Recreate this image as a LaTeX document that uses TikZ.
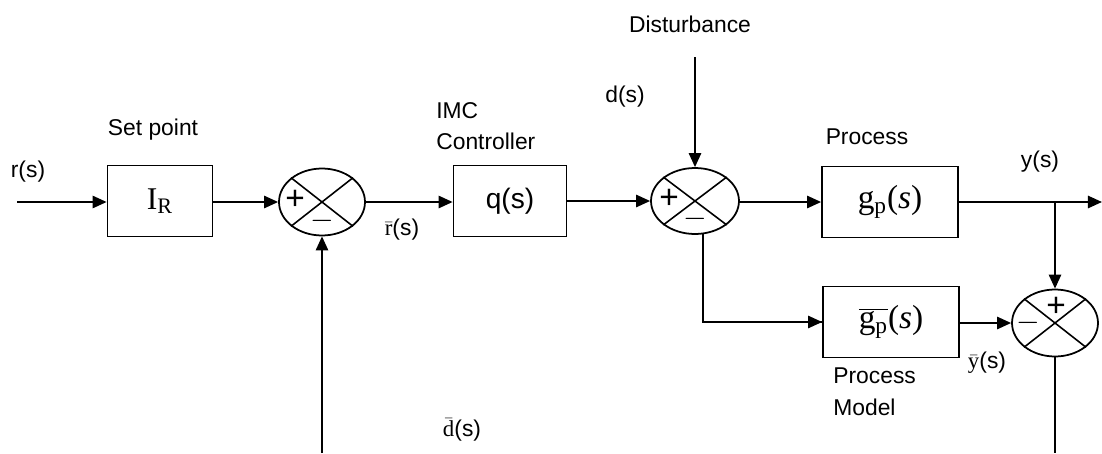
\documentclass[tikz,border=0pt]{standalone}
\usepackage{fontspec}
\setmainfont{Liberation Sans}
\newfontfamily\serifm{Liberation Serif}
\usetikzlibrary{shapes.geometric,arrows.meta}
\begin{document}
\begin{tikzpicture}[x=0.02cm,y=-0.02cm,
  font=\fontsize{13}{18}\selectfont,
  blk/.style={draw,line width=1pt,rectangle,inner sep=0pt},
  summer/.style={draw,line width=1pt,ellipse,inner sep=0pt,minimum width=1.72cm,minimum height=1.34cm},
  wire/.style={line width=1.1pt},
  arr/.style={wire,-{Triangle[length=8pt,width=7pt]}},
  sgn/.style={inner sep=0pt,font=\fontsize{19}{19}\selectfont},
  lbl/.style={inner sep=0pt}]
\useasboundingbox (0,0) rectangle (1102,453);
% blocks
\node[blk,minimum width=2.1cm,minimum height=1.42cm] (ir) at (160,201) {\fontsize{18}{20}\selectfont\serifm I\textsubscript{R}};
\node[summer] (s1) at (322,202) {};
\node[blk,minimum width=2.26cm,minimum height=1.42cm] (q) at (510,201) {\fontsize{16}{20}\selectfont q(s)};
\node[summer,minimum width=1.76cm,minimum height=1.32cm] (s2) at (695,201) {};
\node[blk,minimum width=2.72cm,minimum height=1.42cm] (gp) at (890,202) {\fontsize{19}{20}\selectfont\serifm g\textsubscript{p}(\textit{s})};
\node[blk,minimum width=2.72cm,minimum height=1.42cm] (gpb) at (891,322) {\fontsize{19}{20}\selectfont\serifm $\overline{\hbox{g\textsubscript{p}}}$(\textit{s})};
\node[summer] (s3) at (1055,323) {};
% crosses
\foreach \s in {s1,s2,s3}{
  \draw[line width=0.9pt] (\s.north west) -- (\s.south east);
  \draw[line width=0.9pt] (\s.north east) -- (\s.south west);
}
% signs
\node[sgn] (p1) at (295,200) {+};
\node[sgn] (m1) at (322,221) {$-$};
\node[sgn] (p2) at (669,199) {+};
\node[sgn] (m2) at (695,219) {$-$};
\node[sgn] (p3) at (1056,307) {+};
\node[sgn] (m3) at (1028,323) {$-$};
% coordinates
\coordinate (in) at (17,202);
\coordinate (out) at (1102,202);
\coordinate (jn) at (1055,202);
\coordinate (fb1) at (322,453);
\coordinate (fb3) at (1055,453);
\coordinate (dist) at (695,57);
% connectors
\draw[arr] (in) -- (ir.west |- in);
\draw[arr] (ir.east |- in) -- (s1.west);
\draw[arr] (s1.east) -- (q.west |- s1.east);
\draw[arr] (q.east |- s2.west) -- (s2.west);
\draw[arr] (dist) -- (s2.north);
\draw[arr] (s2.east |- jn) -- (gp.west |- jn);
\draw[arr] (gp.east |- jn) -- (out);
\draw[arr] (jn) -- (s3.north);
\draw[wire] (s2.-77) |- (gpb.west);
\draw[arr] (s2.-77 |- gpb.west) -- (gpb.west);
\draw[arr] (gpb.east |- s3.west) -- (s3.west);
\draw[arr] (fb1) -- (s1.south);
\draw[wire] (s3.south) -- (fb3);
% labels
\node[lbl] (lr) at (28,172) {r(s)};
\node[lbl] (lsp) at (153,130) {Set point};
\node[lbl] (lrb) at (402,230) {\serifm$\bar{\hbox{r}}$\normalfont(s)};
\node[lbl,align=left,anchor=west] (limc) at (436,126) {IMC\\Controller};
\node[lbl] (lds) at (625,97) {d(s)};
\node[lbl] (ldist) at (690,24) {Disturbance};
\node[lbl] (lproc) at (867,137) {Process};
\node[lbl] (lys) at (1040,162) {y(s)};
\node[lbl] (lyb) at (987,363) {\serifm$\bar{\hbox{y}}$\normalfont(s)};
\node[lbl,align=left,anchor=west] (lpm) at (833,392) {Process\\Model};
\node[lbl] (ldb) at (462,430) {\serifm$\bar{\hbox{d}}$\normalfont(s)};
\end{tikzpicture}
\end{document}
